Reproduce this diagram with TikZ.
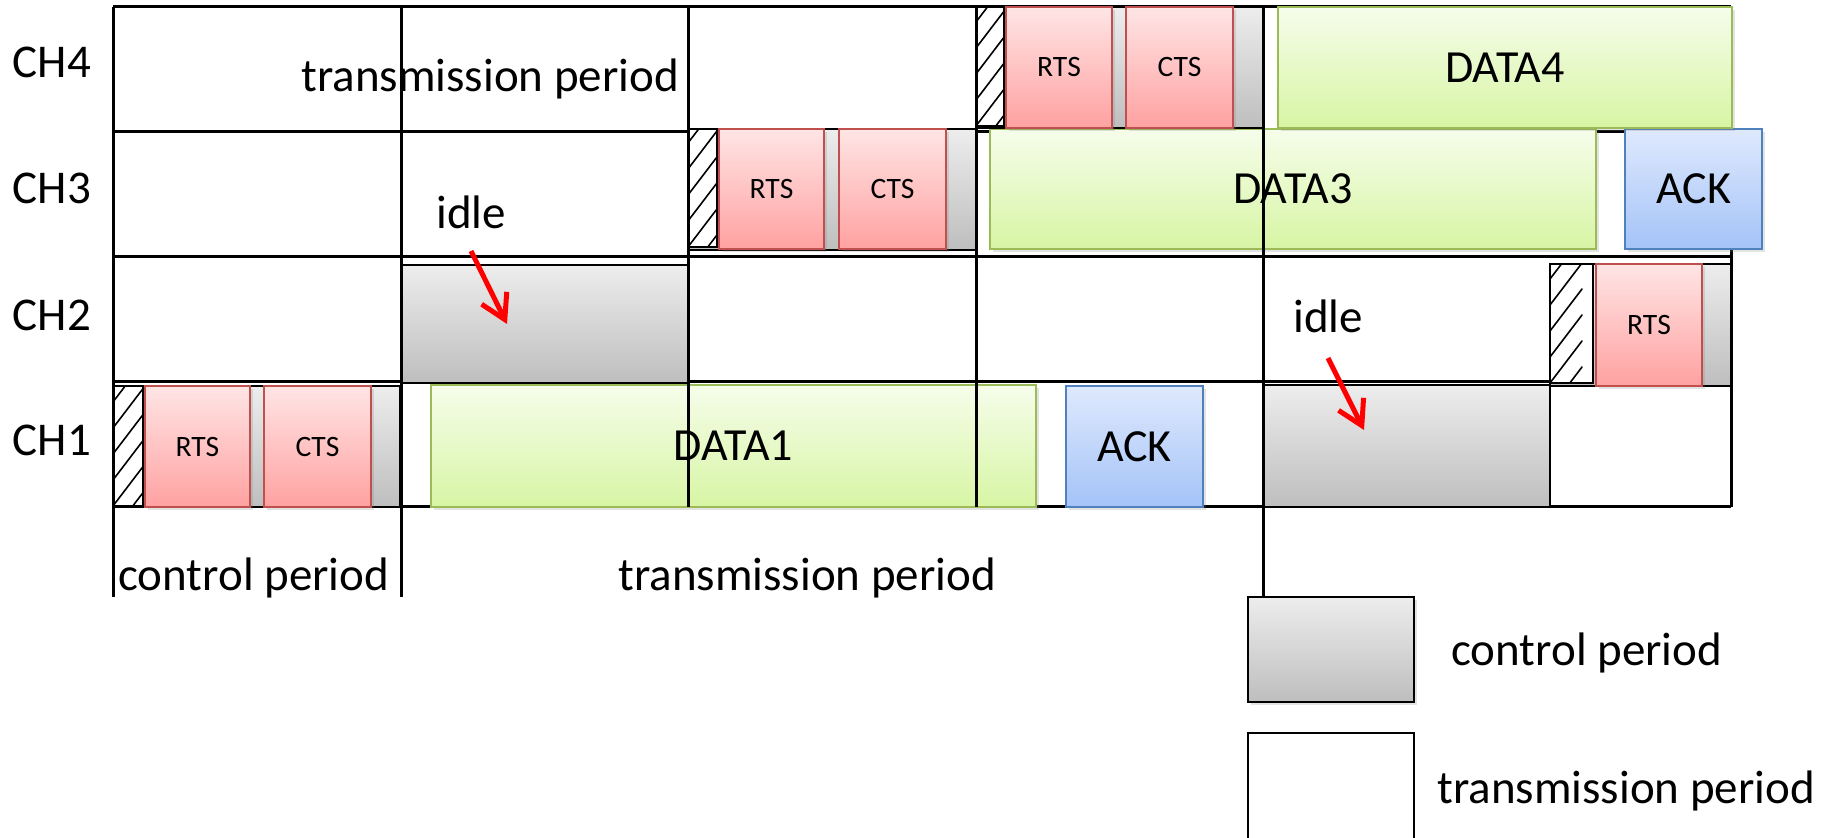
\documentclass[tikz,border=0pt]{standalone}
\usepackage{fontspec}
\setmainfont{Carlito}
\usetikzlibrary{arrows.meta,shadows}

\definecolor{ctrltop}{HTML}{EDEDED}
\definecolor{ctrlbot}{HTML}{BEBEBE}
\definecolor{rtstop}{HTML}{FFE5E5}
\definecolor{rtsbot}{HTML}{FFA1A1}
\definecolor{rtsline}{HTML}{C0504D}
\definecolor{datatop}{HTML}{F6FDEB}
\definecolor{databot}{HTML}{D7F5A4}
\definecolor{dataline}{HTML}{9BBB59}
\definecolor{acktop}{HTML}{DFE9FD}
\definecolor{ackbot}{HTML}{A4C3F8}
\definecolor{ackline}{HTML}{4F81BD}

% a rectangular slot given by its corners (x1,y1) and (x2,y2), in pixel units
\newcommand\seg[7]{%
  \node[#2, minimum width={((#5)-(#3))*0.5pt}, minimum height={((#6)-(#4))*0.5pt}] (#1) at (#3,#4) {#7};}

\tikzset{
  box/.style={anchor=north west, inner sep=0pt, outer sep=0pt, line width=1pt},
  softshadow/.style={drop shadow={shadow xshift=1.5pt, shadow yshift=-1.5pt, opacity=0.22}},
  ctrl/.style={box, draw=black, top color=ctrltop, bottom color=ctrlbot},
  hatch/.style={box, draw=black, fill=white,
    path picture={
      \foreach \k in {-2,...,5}
        \draw[line width=0.8pt, line cap=round]
          ([yshift=\k*13pt]path picture bounding box.south west) -- ++(16pt,21pt);
    }},
  rts/.style={box, softshadow, draw=rtsline, top color=rtstop, bottom color=rtsbot,
    font=\fontsize{14.8}{17}\selectfont},
  data/.style={box, softshadow, draw=dataline, top color=datatop, bottom color=databot,
    font=\fontsize{23}{27}\selectfont},
  ack/.style={box, softshadow, draw=ackline, top color=acktop, bottom color=ackbot,
    font=\fontsize{23}{27}\selectfont},
  grid/.style={line width=1.5pt, black},
  lbl/.style={inner sep=0pt, font=\fontsize{23.5}{28}\selectfont},
  leglbl/.style={lbl, anchor=base west},
  idlearrow/.style={red, line width=2.5pt,
    -{Straight Barb[length=12pt, width=14pt]}},
}

\begin{document}
\begin{tikzpicture}[x=0.5pt, y=-0.5pt]
\useasboundingbox (0,0) rectangle (1835,838);
\fill[white] (0,0) rectangle (1835,838);

% channel borders and right edge
\draw[grid] (113,7) -- (1731,7);
\draw[grid] (113,132) -- (1731,132);
\draw[grid] (113,257) -- (1731,257);
\draw[grid] (113,382) -- (1731,382);
\draw[grid] (113,507) -- (1731,507);
\draw[grid] (1731,7) -- (1731,507);

% channel names
\node[lbl] (ch4) at (52,62) {CH4};
\node[lbl] (ch3) at (52,188) {CH3};
\node[lbl] (ch2) at (52,315) {CH2};
\node[lbl] (ch1) at (52,440) {CH1};

% CH1
\seg{c1ctrl}{ctrl}{113}{386}{400}{507}{}
\seg{c1hatch}{hatch}{113}{386}{143}{506}{}
\seg{c1rts}{rts}{145}{386}{250}{507}{RTS}
\seg{c1cts}{rts}{264}{386}{371}{507}{CTS}
\seg{c1data}{data}{431}{385}{1036}{507}{DATA1}
\seg{c1ack}{ack}{1066}{386}{1203}{507}{ACK}
\seg{c1idle}{ctrl}{1263}{385}{1550}{507}{}

% CH2
\seg{c2idle}{ctrl}{401}{265}{688}{383}{}
\seg{c2ctrl}{ctrl}{1550}{264}{1731}{386}{}
\seg{c2hatch}{hatch}{1550}{264}{1593}{383}{}
\seg{c2rts}{rts}{1596}{264}{1702}{386}{RTS}

% CH3
\seg{c3ctrl}{ctrl}{688}{129}{976}{250}{}
\seg{c3hatch}{hatch}{688}{129}{717}{247}{}
\seg{c3rts}{rts}{719}{129}{824}{249}{RTS}
\seg{c3cts}{rts}{839}{129}{946}{249}{CTS}
\seg{c3data}{data}{990}{129}{1596}{249}{DATA3}
\seg{c3ack}{ack}{1625}{129}{1762}{249}{ACK}

% CH4
\seg{c4ctrl}{ctrl}{976}{7}{1263}{128}{}
\seg{c4hatch}{hatch}{976}{7}{1004}{126}{}
\seg{c4rts}{rts}{1006}{7}{1112}{128}{RTS}
\seg{c4cts}{rts}{1126}{7}{1233}{128}{CTS}
\seg{c4data}{data}{1278}{7}{1732}{128}{DATA4}

% period boundaries
\draw[grid] (113,7) -- (113,597);
\draw[grid] (401,7) -- (401,597);
\draw[grid] (688,7) -- (688,507);
\draw[grid] (976,7) -- (976,507);
\draw[grid] (1263,7) -- (1263,597);

% period names
\node[lbl, anchor=base west] (toptx) at (301,92) {transmission period};
\node[lbl, anchor=base west] (botctrl) at (118,591) {control period};
\node[lbl, anchor=base west] (bottx) at (618,591) {transmission period};

% idle markers
\node[lbl, anchor=base west] (idle1) at (436,229) {idle};
\node[lbl, anchor=base west] (idle2) at (1293,333) {idle};
\coordinate (a1s) at (471,251);
\coordinate (a1e) at (507,324);
\coordinate (a2s) at (1328,358);
\coordinate (a2e) at (1364,430);
\draw[idlearrow] (a1s) -- (a1e);
\draw[idlearrow] (a2s) -- (a2e);

% legend
\seg{legctrl}{ctrl, softshadow}{1248}{597}{1414}{702}{}
\seg{legtx}{box, draw=black, fill=white}{1248}{733}{1414}{860}{}
\node[leglbl] (legctrltxt) at (1451,665) {control period};
\node[leglbl] (legtxtxt) at (1437,803) {transmission period};
\end{tikzpicture}
\end{document}
